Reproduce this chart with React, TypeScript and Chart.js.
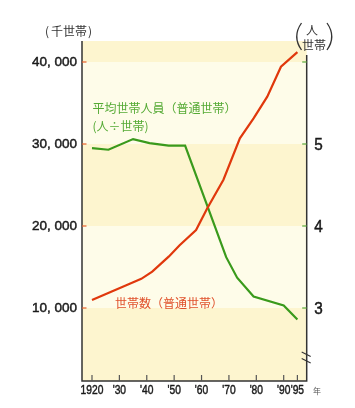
import React, { useEffect, useRef } from "react";
import { Chart, registerables } from "chart.js";

Chart.register(...registerables);

const xTickYears = [1920, 1930, 1940, 1950, 1960, 1970, 1980, 1990, 1995];
const leftTickValues = [10000, 20000, 30000, 40000];
const rightTickValues = [3, 4, 5, 6];
const rightLabeledValues = [3, 4, 5];

const householdYears = [1920, 1927, 1934, 1938, 1942, 1948, 1952, 1958, 1962, 1968, 1974, 1979, 1984, 1989, 1995];
const householdCounts = [10980, 11990, 13000, 13550, 14430, 16260, 17650, 19510, 22100, 25650, 30700, 33120, 35770, 39430, 41200];

const sizeYears = [1920, 1926, 1935, 1941, 1948, 1954, 1969, 1973, 1979, 1990, 1995];
const sizeValues = [4.95, 4.93, 5.06, 5.01, 4.98, 4.98, 3.62, 3.37, 3.14, 3.03, 2.86];

const NUM_FONT = "'Liberation Sans', Arial, sans-serif";
const CJK_FONT = "'Noto Sans CJK JP', 'Noto Sans', sans-serif";

const RED = "#e0380c";
const GREEN = "#3a9a1c";
const BAND_DARK = "#fdf5cf";
const BAND_LIGHT = "#fefce9";
const AXIS = "#333333";

const fmtThousands = (v: number) => `${Math.floor(v / 1000)}, ${String(v % 1000).padStart(3, "0")}`;
const fmtYear = (v: number) => (v === 1920 ? "1920" : "'" + String(v % 100).padStart(2, "0"));

const heavyText = (ctx: any, text: string, x: number, y: number, w: number) => {
  ctx.fillText(text, x, y);
  ctx.lineWidth = w;
  ctx.strokeText(text, x, y);
};

const decorPlugin = {
  id: "decor",
  beforeDatasetsDraw(chart: any) {
    const { ctx, chartArea } = chart;
    const y = chart.scales.y;
    const bounds = [y.min, ...leftTickValues, y.max];
    ctx.save();
    for (let i = 0; i < bounds.length - 1; i++) {
      const top = y.getPixelForValue(bounds[i + 1]);
      const bot = y.getPixelForValue(bounds[i]);
      ctx.fillStyle = i % 2 === 0 ? BAND_DARK : BAND_LIGHT;
      ctx.fillRect(chartArea.left, top, chartArea.right - chartArea.left, bot - top);
    }
    ctx.restore();
  },
  afterDraw(chart: any) {
    const { ctx, chartArea } = chart;
    const x = chart.scales.x;
    const y = chart.scales.y;
    const y2 = chart.scales.y2;
    ctx.save();
    // axis lines
    ctx.strokeStyle = AXIS;
    ctx.lineWidth = 1.5;
    ctx.beginPath();
    ctx.moveTo(chartArea.left, chartArea.top);
    ctx.lineTo(chartArea.left, chartArea.bottom);
    ctx.lineTo(chartArea.right, chartArea.bottom);
    ctx.lineTo(chartArea.right, chartArea.top + 14);
    ctx.stroke();
    // x ticks (inward)
    ctx.lineWidth = 1.2;
    ctx.strokeStyle = "#555";
    xTickYears.forEach((yr) => {
      const px = x.getPixelForValue(yr);
      ctx.beginPath();
      ctx.moveTo(px, chartArea.bottom);
      ctx.lineTo(px, chartArea.bottom - 6);
      ctx.stroke();
    });
    // left ticks
    ctx.strokeStyle = "#e8602a";
    leftTickValues.forEach((v) => {
      const py = y.getPixelForValue(v);
      ctx.beginPath();
      ctx.moveTo(chartArea.left, py);
      ctx.lineTo(chartArea.left + 4.5, py);
      ctx.stroke();
    });
    // right ticks
    ctx.strokeStyle = "#5aaa3a";
    rightTickValues.forEach((v) => {
      const py = y2.getPixelForValue(v);
      ctx.beginPath();
      ctx.moveTo(chartArea.right, py);
      ctx.lineTo(chartArea.right - 4.5, py);
      ctx.stroke();
    });
    // axis break marks
    ctx.strokeStyle = AXIS;
    ctx.lineWidth = 1.2;
    [352, 358.5].forEach((by) => {
      ctx.beginPath();
      ctx.moveTo(chartArea.right - 5, by);
      ctx.lineTo(chartArea.right + 4, by + 4.5);
      ctx.stroke();
    });

    // tick labels
    ctx.textBaseline = "middle";
    ctx.fillStyle = "#1a1a1a";
    ctx.strokeStyle = "#1a1a1a";
    ctx.textAlign = "right";
    ctx.font = `13.5px ${NUM_FONT}`;
    leftTickValues.forEach((v) => {
      heavyText(ctx, fmtThousands(v), chartArea.left - 5, y.getPixelForValue(v) + 0.5, 0.45);
    });
    ctx.textAlign = "left";
    ctx.font = `17px ${NUM_FONT}`;
    rightLabeledValues.forEach((v) => {
      ctx.save();
      ctx.translate(chartArea.right + 7.5, y2.getPixelForValue(v) + 1);
      ctx.scale(0.9, 1);
      heavyText(ctx, String(v), 0, 0, 0.5);
      ctx.restore();
    });
    ctx.textAlign = "center";
    ctx.font = `12.5px ${NUM_FONT}`;
    xTickYears.forEach((yr) => {
      ctx.save();
      ctx.translate(x.getPixelForValue(yr), chartArea.bottom + 10);
      ctx.scale(0.82, 1);
      heavyText(ctx, fmtYear(yr), 0, 0, 0.45);
      ctx.restore();
    });

    // texts
    ctx.textAlign = "left";
    ctx.fillStyle = "#333";
    ctx.font = `12px ${CJK_FONT}`;
    ctx.fillText("(", 45, 31);
    ctx.fillText("千世帯", 51, 31);
    ctx.fillText(")", 88, 31);

    ctx.fillStyle = "#55aa35";
    ctx.font = `12px ${CJK_FONT}`;
    ctx.fillText("平均世帯人員（普通世帯）", 92.5, 108);
    ctx.fillText("(人÷世帯)", 92.5, 126);

    ctx.fillStyle = "#e0502a";
    ctx.fillText("世帯数（普通世帯）", 115, 303.5);

    // right unit label
    ctx.fillStyle = "#333";
    ctx.textAlign = "center";
    ctx.font = `12px ${CJK_FONT}`;
    ctx.fillText("人", 312, 30);
    ctx.fillText("世帯", 314, 45);
    ctx.strokeStyle = "#333";
    ctx.lineWidth = 1.3;
    ctx.beginPath();
    ctx.moveTo(301.5, 23);
    ctx.quadraticCurveTo(292, 36.5, 301.5, 50);
    ctx.stroke();
    ctx.beginPath();
    ctx.moveTo(327, 23);
    ctx.quadraticCurveTo(336.5, 36.5, 327, 50);
    ctx.stroke();

    ctx.fillStyle = "#555";
    ctx.font = `8px ${CJK_FONT}`;
    ctx.fillText("年", 317, 391);
    ctx.restore();
  },
};

export default function App() {
  const ref = useRef<HTMLCanvasElement | null>(null);
  useEffect(() => {
    if (!ref.current) return;
    const chart = new Chart(ref.current, {
      type: "line",
      data: {
        datasets: [
          {
            label: "世帯数（普通世帯）",
            data: householdYears.map((yr, i) => ({ x: yr, y: householdCounts[i] })),
            yAxisID: "y",
            borderColor: RED,
            borderWidth: 2.2,
            pointRadius: 0,
            tension: 0,
            fill: false,
          },
          {
            label: "平均世帯人員（普通世帯）",
            data: sizeYears.map((yr, i) => ({ x: yr, y: sizeValues[i] })),
            yAxisID: "y2",
            borderColor: GREEN,
            borderWidth: 2.2,
            pointRadius: 0,
            tension: 0,
            fill: false,
          },
        ],
      },
      options: {
        responsive: false,
        animation: false,
        layout: { padding: { top: 41, left: 0, right: 0, bottom: 0 } },
        plugins: { legend: { display: false }, tooltip: { enabled: false } },
        scales: {
          x: {
            type: "linear",
            min: 1916.35,
            max: 1998.4,
            grid: { display: false },
            border: { display: false },
            ticks: { display: false },
            afterFit: (s: any) => {
              s.height = 27;
            },
          },
          y: {
            type: "linear",
            position: "left",
            min: 1097.6,
            max: 42561,
            grid: { display: false },
            border: { display: false },
            ticks: { display: false },
            afterFit: (s: any) => {
              s.width = 82;
            },
          },
          y2: {
            type: "linear",
            position: "right",
            min: 2.1098,
            max: 6.256,
            grid: { display: false },
            border: { display: false },
            ticks: { display: false },
            afterFit: (s: any) => {
              s.width = 48.3;
            },
          },
        },
      },
      plugins: [decorPlugin],
    });
    return () => chart.destroy();
  }, []);
  return (
    <div style={{ position: "fixed", left: 0, top: 0, width: 355, height: 408, background: "#fff" }}>
      <canvas ref={ref} width={355} height={408} style={{ display: "block" }} />
    </div>
  );
}
